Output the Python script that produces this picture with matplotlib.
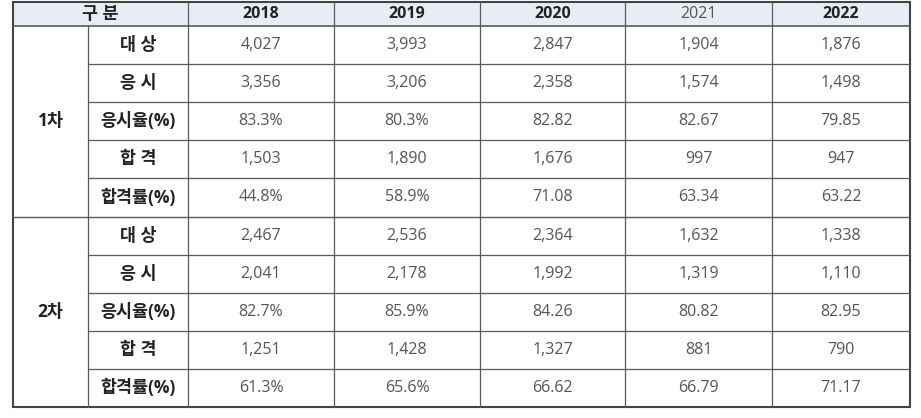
import matplotlib
matplotlib.use('Agg')
import matplotlib.pyplot as plt
from matplotlib.patches import Rectangle

plt.rcParams['font.family'] = ['Open Sans', 'Noto Sans CJK KR', 'DejaVu Sans']

# 표 데이터
years = ['2018', '2019', '2020', '2021', '2022']
groups = ['1차', '2차']
items = ['대 상', '응 시', '응시율(%)', '합 격', '합격률(%)']

first_round = [
    ['4,027', '3,993', '2,847', '1,904', '1,876'],
    ['3,356', '3,206', '2,358', '1,574', '1,498'],
    ['83.3%', '80.3%', '82.82', '82.67', '79.85'],
    ['1,503', '1,890', '1,676', '997', '947'],
    ['44.8%', '58.9%', '71.08', '63.34', '63.22'],
]
second_round = [
    ['2,467', '2,536', '2,364', '1,632', '1,338'],
    ['2,041', '2,178', '1,992', '1,319', '1,110'],
    ['82.7%', '85.9%', '84.26', '80.82', '82.95'],
    ['1,251', '1,428', '1,327', '881', '790'],
    ['61.3%', '65.6%', '66.62', '66.79', '71.17'],
]
header_bold = [True, True, True, False, True]

# 레이아웃 (픽셀 단위)
col_x = [13, 88, 188, 334, 480, 625, 772, 910]
top, head_bot, bottom = 2, 26, 407
row_h = (bottom - head_bot) / (len(groups) * len(items))

fig = plt.figure(figsize=(9.21, 4.18), dpi=100)
ax = fig.add_axes([0, 0, 1, 1])
ax.set_xlim(0, 921)
ax.set_ylim(418, 0)
ax.axis('off')

line_c = '#5a5a5a'
text_c = '#555555'
dark_c = '#222222'
fs = 11.5
fs_kr = 12.5

# 헤더
ax.add_patch(Rectangle((col_x[0], top), col_x[-1] - col_x[0], head_bot - top,
                       facecolor='#e8ecf4', edgecolor='none'))
ax.text((col_x[0] + col_x[2]) / 2, (top + head_bot) / 2, '구 분', ha='center', va='center',
        fontsize=fs_kr, fontweight='bold', color=dark_c)
for j, y in enumerate(years):
    cx = (col_x[j + 2] + col_x[j + 3]) / 2
    ax.text(cx, (top + head_bot) / 2, y, ha='center', va='center', fontsize=fs,
            fontweight='bold' if header_bold[j] else 'normal',
            color=dark_c if header_bold[j] else '#555555')

# 본문
for g, (gname, data) in enumerate(zip(groups, [first_round, second_round])):
    g_top = head_bot + g * len(items) * row_h
    ax.text((col_x[0] + col_x[1]) / 2, g_top + 2.5 * row_h, gname, ha='center', va='center',
            fontsize=fs_kr, fontweight='bold', color=dark_c)
    for i, item in enumerate(items):
        cy = g_top + (i + 0.5) * row_h
        ax.text((col_x[1] + col_x[2]) / 2, cy, item, ha='center', va='center',
                fontsize=fs_kr, fontweight='bold', color=dark_c)
        for j, val in enumerate(data[i]):
            cx = (col_x[j + 2] + col_x[j + 3]) / 2
            ax.text(cx, cy, val, ha='center', va='center', fontsize=fs, color=text_c)
        # 행 구분선
        y_line = g_top + (i + 1) * row_h
        if i < len(items) - 1:
            ax.plot([col_x[1], col_x[-1]], [y_line, y_line], color=line_c, lw=0.9)
    if g == 0:
        y_line = g_top + len(items) * row_h
        ax.plot([col_x[0], col_x[-1]], [y_line, y_line], color=line_c, lw=1.0)

# 헤더 아래선
ax.plot([col_x[0], col_x[-1]], [head_bot, head_bot], color=line_c, lw=1.2)
# 세로선
ax.plot([col_x[1], col_x[1]], [head_bot, bottom], color=line_c, lw=0.9)
for x in col_x[2:-1]:
    ax.plot([x, x], [top, bottom], color=line_c, lw=0.9)
# 바깥 테두리
ax.add_patch(Rectangle((col_x[0], top), col_x[-1] - col_x[0], bottom - top,
                       facecolor='none', edgecolor='#444444', lw=1.5))

fig.savefig('out.png', dpi=100, facecolor='white')
